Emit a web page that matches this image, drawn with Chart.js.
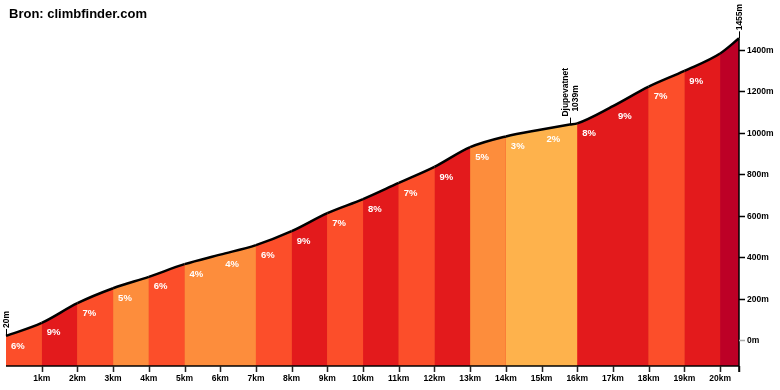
<!DOCTYPE html>
<html>
<head>
<meta charset="utf-8">
<title>Bron: climbfinder.com</title>
<script src="https://cdn.jsdelivr.net/npm/chart.js@4"></script>
<style>
  html, body { margin: 0; padding: 0; background: #fff; }
  canvas { display: block; }
</style>
</head>
<body>
<canvas id="profile" width="780" height="390"></canvas>
<script>
// ─── DATA ─────────────────────────────────────────────────────────────────────
const distanceKm = [0, 1, 2, 3, 4, 5, 6, 7, 8, 9, 10, 11, 12, 13, 14, 15, 15.79, 16, 17, 18, 19, 20, 20.53];
const elevationM = [20, 83, 178, 250, 305, 366, 412, 458, 525, 612, 680, 758, 835, 930, 982, 1015, 1039, 1045, 1128, 1222, 1298, 1382, 1455];
const gradients = [6, 9, 7, 5, 6, 4, 4, 6, 9, 7, 8, 7, 9, 5, 3, 2, 8, 9, 7, 9, 13];
const kmTicks = [1, 2, 3, 4, 5, 6, 7, 8, 9, 10, 11, 12, 13, 14, 15, 16, 17, 18, 19, 20];
const heightTicks = [0, 200, 400, 600, 800, 1000, 1200, 1400];
const passName = 'Djupevatnet';
const passKm = 15.79;
const passElevation = 1039;

const totalKm = distanceKm[distanceKm.length - 1];
const FONT = "'Liberation Sans', Arial, sans-serif";

// ─── HELPERS ──────────────────────────────────────────────────────────────────
function gradeColor(g) {
  if (g >= 10) return '#bd0026';
  if (g >= 8) return '#e31a1c';
  if (g >= 6) return '#fc4e2a';
  if (g >= 4) return '#fd8d3c';
  return '#feb24c';
}

function rotatedText(ctx, text, x, y) {
  ctx.save();
  ctx.translate(x, y);
  ctx.rotate(-Math.PI / 2);
  ctx.textAlign = 'left';
  ctx.textBaseline = 'middle';
  ctx.fillText(text, 0, 0);
  ctx.restore();
}

// labels, axes and annotations drawn on top of the profile
const profileDecor = {
  id: 'profileDecor',
  afterDatasetsDraw(chart) {
    const { ctx, scales: { x, y }, chartArea } = chart;
    ctx.save();

    // gradient labels per km
    ctx.fillStyle = '#fff';
    ctx.font = 'bold 9.5px ' + FONT;
    ctx.textAlign = 'left';
    ctx.textBaseline = 'middle';
    gradients.forEach((g, i) => {
      if (i >= 20) return; // last stretch too short for a label
      const idx = distanceKm.indexOf(i);
      ctx.fillText(g + '%', x.getPixelForValue(i) + 5, y.getPixelForValue(elevationM[idx]) + 10);
    });

    // x axis
    const bottom = chartArea.bottom;
    ctx.strokeStyle = '#000';
    ctx.lineWidth = 1.5;
    ctx.beginPath();
    ctx.moveTo(chartArea.left, bottom);
    ctx.lineTo(chartArea.right, bottom);
    ctx.stroke();
    ctx.strokeStyle = '#222';
    [...kmTicks, totalKm].forEach(k => {
      const px = Math.round(x.getPixelForValue(k)) + 0.5;
      ctx.beginPath();
      ctx.moveTo(px, bottom);
      ctx.lineTo(px, bottom + 6);
      ctx.stroke();
    });
    ctx.fillStyle = '#000';
    ctx.font = 'bold 8.5px ' + FONT;
    ctx.textAlign = 'center';
    ctx.textBaseline = 'middle';
    kmTicks.forEach(k => ctx.fillText(k + 'km', x.getPixelForValue(k), bottom + 13));

    // y axis on the right
    const right = chartArea.right;
    const topPx = y.getPixelForValue(elevationM[elevationM.length - 1]);
    ctx.strokeStyle = '#000';
    ctx.beginPath();
    ctx.moveTo(right, topPx);
    ctx.lineTo(right, bottom + 6);
    ctx.stroke();
    ctx.textAlign = 'left';
    heightTicks.forEach(h => {
      const py = Math.round(y.getPixelForValue(h)) + 0.5;
      ctx.strokeStyle = h === 0 ? '#aaa' : '#000';
      ctx.beginPath();
      ctx.moveTo(right, py);
      ctx.lineTo(right + 6, py);
      ctx.stroke();
      ctx.fillText(h + 'm', right + 8, py);
    });

    // start / pass / summit annotations
    ctx.strokeStyle = '#000';
    ctx.lineWidth = 1;
    const notes = [
      { km: distanceKm[0], h: elevationM[0], lines: [elevationM[0] + 'm'] },
      { km: passKm, h: passElevation, lines: [passName, passElevation + 'm'] },
      { km: totalKm, h: elevationM[elevationM.length - 1], lines: [elevationM[elevationM.length - 1] + 'm'] }
    ];
    notes.forEach(n => {
      const px = Math.round(x.getPixelForValue(n.km)) + 0.5;
      const py = y.getPixelForValue(n.h);
      ctx.beginPath();
      ctx.moveTo(px, py);
      ctx.lineTo(px, py - 7);
      ctx.stroke();
      const off = (n.lines.length - 1) * 5;
      n.lines.forEach((t, j) => rotatedText(ctx, t, px - off + j * 10, py - 8 - j * 5));
    });

    // title
    ctx.font = 'bold 13px ' + FONT;
    ctx.textAlign = 'left';
    ctx.textBaseline = 'alphabetic';
    ctx.fillText('Bron: climbfinder.com', 9, 18);

    ctx.restore();
  }
};

// ─── CHART ────────────────────────────────────────────────────────────────────
const points = distanceKm.map((d, i) => ({ x: d, y: elevationM[i] }));

new Chart(document.getElementById('profile'), {
  type: 'line',
  data: {
    datasets: [{
      // coloured stretches with the elevation line on top
      data: points,
      order: 1,
      borderColor: '#000',
      borderWidth: 2.5,
      pointRadius: 0,
      fill: 'start',
      backgroundColor: '#fc4e2a',
      cubicInterpolationMode: 'monotone',
      clip: false,
      segment: {
        backgroundColor: c => gradeColor(gradients[Math.floor(distanceKm[c.p0DataIndex])])
      }
    }, {
      // plain underlay so the seams between stretches don't show white
      data: points,
      order: 2,
      borderWidth: 0,
      pointRadius: 0,
      fill: 'start',
      backgroundColor: '#f4562e',
      cubicInterpolationMode: 'monotone'
    }]
  },
  options: {
    responsive: false,
    animation: false,
    layout: { padding: { left: 6, right: 41, top: 29, bottom: 24 } },
    scales: {
      x: { type: 'linear', min: 0, max: totalKm, display: false },
      y: { min: -125, max: 1500, display: false }
    },
    plugins: {
      legend: { display: false },
      tooltip: { enabled: false }
    }
  },
  plugins: [profileDecor]
});
</script>
</body>
</html>
